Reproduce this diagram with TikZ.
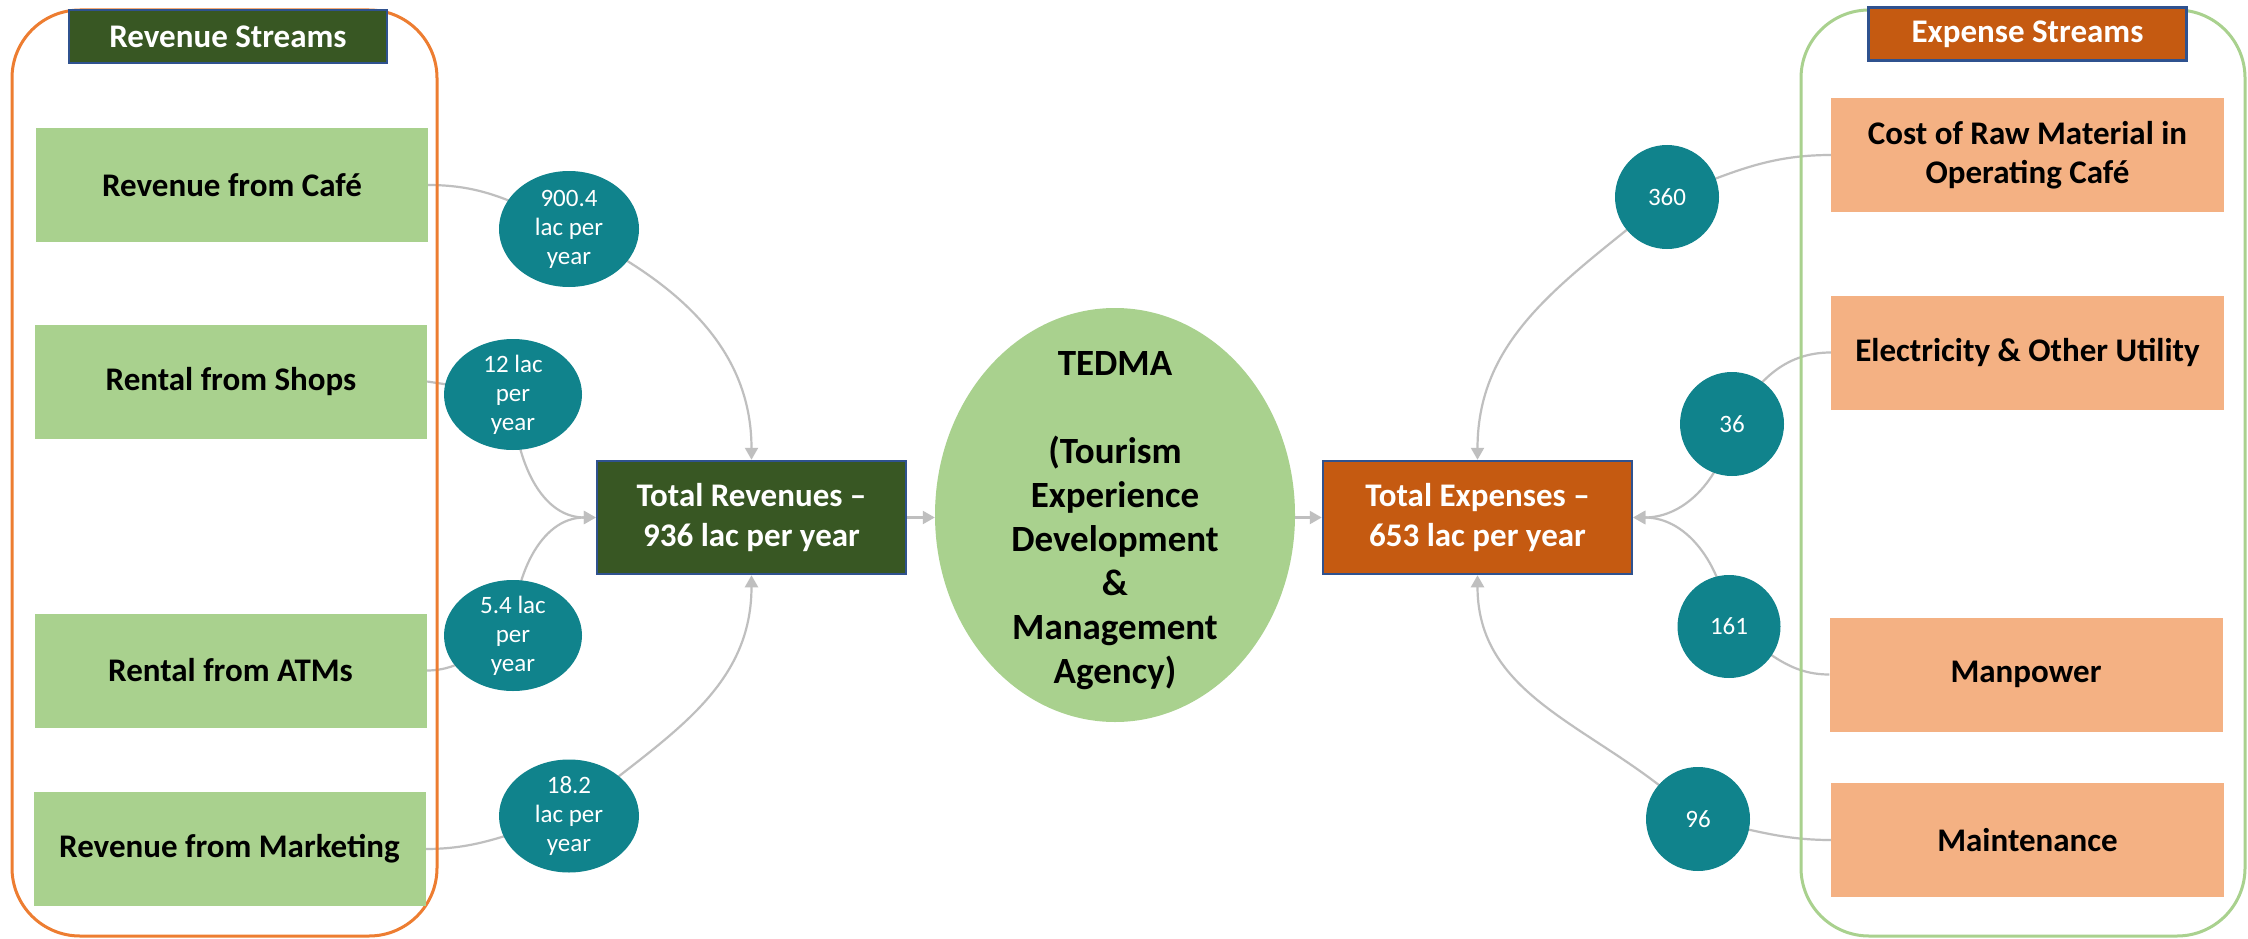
\documentclass[tikz,border=0pt]{standalone}
\usepackage{fontspec}
\setmainfont{Carlito}
\usetikzlibrary{arrows.meta,shapes.geometric}
\pgfdeclarelayer{bg}
\pgfdeclarelayer{lines}
\pgfsetlayers{bg,lines,main}
\definecolor{lgreen}{HTML}{A9D18E}
\definecolor{dgreen}{HTML}{385723}
\definecolor{bblue}{HTML}{2F528F}
\definecolor{dorange}{HTML}{C55A11}
\definecolor{lorange}{HTML}{F4B183}
\definecolor{tealc}{HTML}{10838C}
\definecolor{borange}{HTML}{ED7D31}
\definecolor{cgray}{HTML}{BFBFBF}
\tikzset{
  streambox/.style={fill=#1, minimum width=392pt, minimum height=114pt, inner sep=0pt,
    align=center, font=\fontsize{33}{39}\selectfont\bfseries},
  titlebox/.style={fill=#1, draw=bblue, line width=2.5pt, minimum width=318pt, minimum height=53pt,
    inner sep=0pt, text=white, font=\fontsize{33}{38}\selectfont\bfseries},
  totalbox/.style={fill=#1, draw=bblue, line width=2.5pt, minimum width=309pt, minimum height=113pt,
    inner sep=0pt, text=white, align=center, font=\fontsize{33}{40}\selectfont\bfseries},
  valshape/.style={ellipse, fill=tealc, inner sep=0pt},
  valtext/.style={text=white, align=center, inner sep=0pt, font=\fontsize{25}{29}\selectfont},
  conn/.style={draw=cgray, line width=2.2pt},
  arr/.style={conn, -{Triangle[length=12pt,width=13pt]}},
  container/.style={draw=#1, line width=3pt, rounded corners=68pt}
}
\begin{document}
\begin{tikzpicture}[x=1pt,y=1pt]
\useasboundingbox (0,0) rectangle (2248,-939);
\begin{pgfonlayer}{bg}
\fill[white] (0,0) rectangle (2248,-939);
\end{pgfonlayer}

% containers
\draw[container=borange] (12,-10) rectangle (437,-936);
\draw[container=lgreen] (1801,-10) rectangle (2245,-936);

% titles
\node[titlebox=dgreen] (revtitle) at (228,-36.5) {Revenue Streams};
\node[titlebox=dorange] (exptitle) at (2027.5,-34) {Expense Streams};

% revenue streams
\node[streambox=lgreen] (cafe) at (232,-185) {Revenue from Café};
\node[streambox=lgreen] (shops) at (231,-381.5) {Rental from Shops};
\node[streambox=lgreen] (atms) at (230.5,-670.5) {Rental from ATMs};
\node[streambox=lgreen] (mkt) at (229.5,-849) {Revenue from Marketing};

% expense streams
\node[streambox=lorange, minimum width=393pt] (cost) at (2027.5,-155) {Cost of Raw Material in\\Operating Café};
\node[streambox=lorange, minimum width=393pt] (elec) at (2027.5,-352.5) {Electricity \& Other Utility};
\node[streambox=lorange, minimum width=393pt] (man) at (2026,-674.5) {Manpower};
\node[streambox=lorange, minimum width=393pt] (maint) at (2027.5,-840) {Maintenance};

% totals
\node[totalbox=dgreen] (trev) at (751.5,-517.5) {Total Revenues –\\936 lac per year};
\node[totalbox=dorange] (texp) at (1477.5,-517.5) {Total Expenses –\\653 lac per year};

% center ellipse
\node[ellipse, fill=lgreen, minimum width=360pt, minimum height=414pt, inner sep=0pt] (tedma) at (1115,-515) {};
\node[align=center, inner sep=0pt, font=\fontsize{37}{44}\selectfont\bfseries] (tedmat) at ([yshift=-6pt]tedma.center)
  {TEDMA\\[44pt](Tourism\\Experience\\Development\\\&\\Management\\Agency)};

% value circles
\node[valshape, minimum width=140pt, minimum height=116pt] (c1) at (569,-229) {};
\node[valtext] (c1t) at (c1.center) {900.4\\lac per\\year};
\node[valshape, minimum width=138pt, minimum height=111pt] (c2) at (513,-394.5) {};
\node[valtext] (c2t) at (c2.center) {12 lac\\per\\year};
\node[valshape, minimum width=138pt, minimum height=111pt] (c3) at (513,-635.5) {};
\node[valtext] (c3t) at (c3.center) {5.4 lac\\per\\year};
\node[valshape, minimum width=140pt, minimum height=113pt] (c4) at (569,-816) {};
\node[valtext] (c4t) at (c4.center) {18.2\\lac per\\year};

\node[valshape, minimum width=104pt, minimum height=104pt] (c5) at (1667,-197) {};
\node[valtext] (c5t) at (c5.center) {360};
\node[valshape, minimum width=104pt, minimum height=104pt] (c6) at (1732,-424) {};
\node[valtext] (c6t) at (c6.center) {36};
\node[valshape, minimum width=103pt, minimum height=103pt] (c7) at (1729,-626.5) {};
\node[valtext] (c7t) at (c7.center) {161};
\node[valshape, minimum width=104pt, minimum height=104pt] (c8) at (1698,-819) {};
\node[valtext] (c8t) at (c8.center) {96};

% connectors
\begin{pgfonlayer}{lines}
\draw[arr] (cafe.east) to[out=0,in=154] (c1.center) to[out=-26,in=90] (trev.north);
\draw[arr] (shops.east) -- (c2.center) to[out=-90,in=180] (trev.west);
\draw[arr] (atms.east) to[out=0,in=200] (c3.center) to[out=90,in=180] (trev.west);
\draw[arr] (mkt.east) to[out=0,in=195] (c4.center) to[out=40,in=-90] (trev.south);
\draw[arr] (trev.east) -- (trev.east -| tedma.west);
\draw[arr] (tedma.east |- texp.west) -- (texp.west);
\draw[arr] (cost.west) to[out=180,in=20] (c5.center) to[out=-140,in=90] (texp.north);
\draw[arr] (elec.west) to[out=180,in=60] (c6.center) to[out=-100,in=0] (texp.east);
\draw[arr] (man.west) to[out=180,in=-30] (c7.center) to[out=95,in=0] (texp.east);
\draw[arr] (maint.west) to[out=180,in=-10] (c8.center) to[out=135,in=-90] (texp.south);
\end{pgfonlayer}
\end{tikzpicture}
\end{document}
